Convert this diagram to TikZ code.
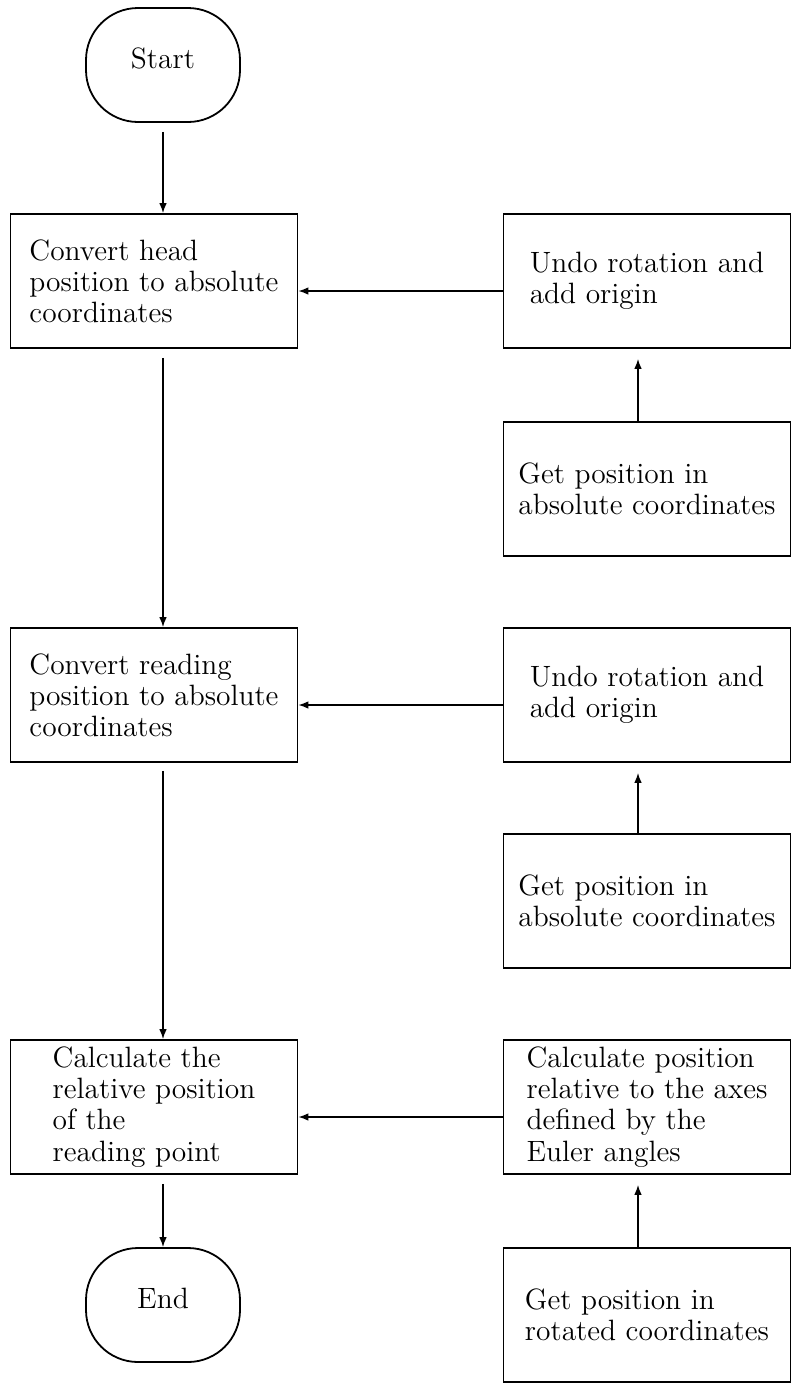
\documentclass[tikz,border=0pt]{standalone}
\usepackage{fontspec}
\usetikzlibrary{positioning,arrows.meta}
\begin{document}
\begin{tikzpicture}[-{Latex[length=5pt,width=3.8pt]}, line width=0.7pt,
    box/.style={draw, line width=0.9pt, minimum width=143.5pt, minimum height=67pt,
        inner sep=2pt, align=left, font=\fontsize{14.7}{15.6}\selectfont},
    term/.style={draw, line width=0.9pt, rounded corners=26pt, minimum width=77pt,
        minimum height=57pt, text depth=7pt, font=\fontsize{14.7}{15.6}\selectfont}]
            \useasboundingbox (0,0) rectangle (396.5pt,-694pt);
            \node (1) [term] at (81.5pt,-32.5pt) {Start};
            \node (2) [box, node distance=108pt, below of=1, xshift=-4.5pt] {Convert head\\position to absolute\\coordinates};
            \node (3) [box, node distance=207pt, below of=2] {Convert reading\\position to absolute\\coordinates};
            \node (4) [box, node distance=206pt, below of=3] {Calculate the\\relative position\\of the\\reading point};
            \node (5) [term, node distance=99pt, below of=4, xshift=4.5pt] {End};
            \node (6) [box, node distance=246.5pt, right of=2] {Undo rotation and\\add origin};
            \node (7) [box, node distance=104pt, below of=6] {Get position in\\absolute coordinates};
            \node (8) [box, node distance=246.5pt, right of=3] {Undo rotation and\\add origin};
            \node (9) [box, node distance=103pt, below of=8] {Get position in\\absolute coordinates};
            \node (10) [box, node distance=246.5pt, right of=4] {Calculate position\\relative to the axes\\defined by the\\Euler angles};
            \node (11) [box, node distance=104pt, below of=10] {Get position in\\rotated coordinates};

            \path
            (1) edge [shorten <=4.5pt] (1 |- 2.north)
            (2.south -| 1) edge [shorten <=4.5pt] (3.north -| 1)
            (3.south -| 1) edge [shorten <=4pt] (4.north -| 1)
            (4.south -| 1) edge [shorten <=4.5pt] (5)
            ([yshift=-5pt]6.west) edge ([yshift=-5pt]2.east)
            ([yshift=-5pt]8.west) edge ([yshift=-5pt]3.east)
            ([yshift=-5pt]10.west) edge ([yshift=-5pt]4.east)
            ([xshift=-4.5pt]7.north) edge [shorten >=5pt] ([xshift=-4.5pt]6.south)
            ([xshift=-4.5pt]9.north) edge [shorten >=5pt] ([xshift=-4.5pt]8.south)
            ([xshift=-4.5pt]11.north) edge [shorten >=5pt] ([xshift=-4.5pt]10.south);

        \end{tikzpicture}
\end{document}
